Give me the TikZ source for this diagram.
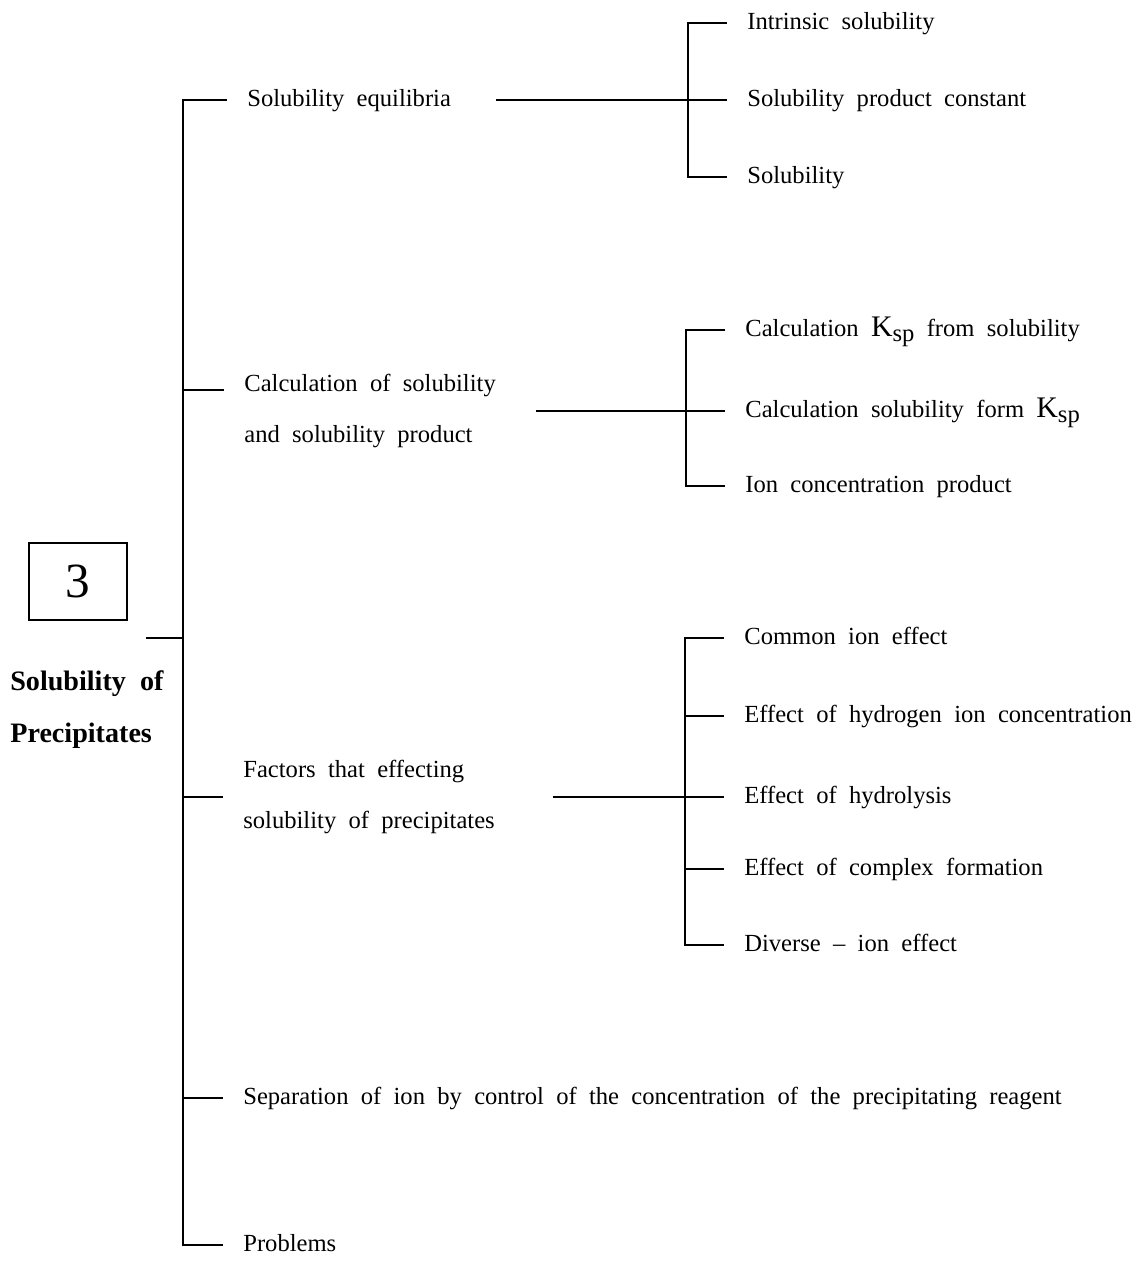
\documentclass[tikz,border=0pt]{standalone}
\usepackage{fontspec}
\setmainfont{Liberation Serif}[WordSpace=2]
\usetikzlibrary{positioning}
\newcommand\ksp{{\fontsize{17}{17}\selectfont K}\raisebox{-0.5ex}{sp}}

\begin{document}
\begin{tikzpicture}[x=0.02cm,y=-0.02cm,font=\fontsize{14}{17}\selectfont,
  link/.style={line width=0.8pt},
  txt/.style={anchor=west,inner xsep=0.4cm,inner ysep=0pt},
  item/.style={txt,text height=10pt,text depth=3pt},
  twoline/.style={txt,align=left,font=\fontsize{14}{29}\selectfont}]
\useasboundingbox (0,0) rectangle (1140,1265);
\node[draw,line width=0.8pt,minimum width=1.96cm,minimum height=1.54cm,font=\fontsize{28}{28}\selectfont] (num) at (78,581.5) {3};
\node[align=left,anchor=west,inner sep=0pt,font=\bfseries\fontsize{16}{29.5}\selectfont] (title) at (10,710) {Solubility of\\Precipitates};
\coordinate (root) at (146,638);
\coordinate (trunk) at (183,638);
\node[item] (b1) at (227,100) {Solubility equilibria};
\node[twoline] (b2) at (224,411) {Calculation of solubility\\and solubility product};
\node[twoline] (b3) at (223,797) {Factors that effecting\\solubility of precipitates};
\node[item] (b4) at (223,1098) {Separation of ion by control of the concentration of the precipitating reagent};
\node[item] (b5) at (223,1245) {Problems};
\coordinate (j1) at (688,100);
\node[item] (c11) at (727,23) {Intrinsic solubility};
\node[item] (c12) at (727,100) {Solubility product constant};
\node[item] (c13) at (727,177) {Solubility};
\coordinate (j2) at (686,411);
\node[item] (c21) at (725,330) {Calculation \ksp{} from solubility};
\node[item] (c22) at (725,411) {Calculation solubility form \ksp};
\node[item] (c23) at (725,486) {Ion concentration product};
\coordinate (j3) at (685,797);
\node[item] (c31) at (724,638) {Common ion effect};
\node[item] (c32) at (724,716) {Effect of hydrogen ion concentration};
\node[item] (c33) at (724,797) {Effect of hydrolysis};
\node[item] (c34) at (724,869) {Effect of complex formation};
\node[item] (c35) at (724,945) {Diverse -- ion effect};
\draw[link] (root) -- (trunk);
\draw[link] (b1.west) -- (b1.west -| trunk) -- (b5.west -| trunk) -- (b5.west);
\draw[link] ([yshift=0.42cm]b2.west) -- ([yshift=0.42cm]b2.west -| trunk);
\draw[link] (b3.west) -- (b3.west -| trunk);
\draw[link] (b4.west) -- (b4.west -| trunk);
\draw[link,shorten <=0.5cm] (b1.east) -- (c12.west);
\draw[link,shorten <=0.4cm] (b2.east) -- (c22.west);
\draw[link,shorten <=0.75cm] (b3.east) -- (c33.west);
\draw[link] (c11.west) -- (c11.west -| j1) -- (c13.west -| j1) -- (c13.west);
\draw[link] (c21.west) -- (c21.west -| j2) -- (c23.west -| j2) -- (c23.west);
\draw[link] (c31.west) -- (c31.west -| j3) -- (c35.west -| j3) -- (c35.west);
\draw[link] (c32.west) -- (c32.west -| j3);
\draw[link] (c34.west) -- (c34.west -| j3);
\end{tikzpicture}
\end{document}
